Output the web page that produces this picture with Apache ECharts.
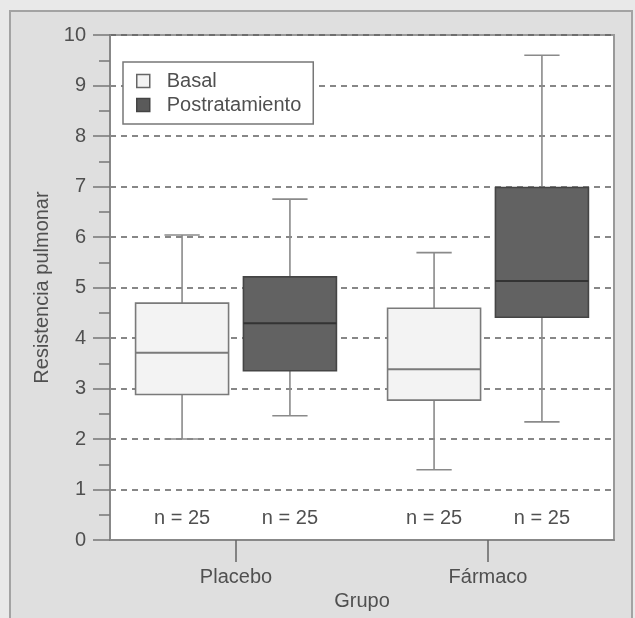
<!DOCTYPE html>
<html>
<head>
<meta charset="utf-8">
<script src="https://cdn.jsdelivr.net/npm/echarts@6/dist/echarts.min.js"></script>
<style>
html,body{margin:0;padding:0;background:#e9e9e9;}
#chart{width:635px;height:618px;}
</style>
</head>
<body>
<div id="chart"></div>
<script>
// ---- data ----
const categories = ['Placebo', 'Fármaco'];
const seriesNames = ['Basal', 'Postratamiento'];
// [min, Q1, median, Q3, max]
const basalValues = [
  [2.0, 2.88, 3.71, 4.69, 6.04],
  [1.39, 2.77, 3.38, 4.59, 5.69]
];
const postValues = [
  [2.46, 3.35, 4.29, 5.21, 6.75],
  [2.34, 4.41, 5.13, 6.98, 9.6]
];
const basalN = ['n = 25', 'n = 25'];
const postN = ['n = 25', 'n = 25'];
const yTicks = [0, 1, 2, 3, 4, 5, 6, 7, 8, 9, 10];

const FONT = 'Liberation Sans, Arial, sans-serif';
const TXT = '#505050';

function toData(vals, labels) {
  return vals.map((v, i) => [i, v[0], v[1], v[2], v[3], v[4], labels[i]]);
}

function makeRender(offsetFrac, st) {
  return function (params, api) {
    const cat = api.value(0);
    const band = api.size([1, 0])[0];
    const cx = api.coord([cat, 0])[0] + offsetFrac * band;
    const y = k => api.coord([cat, api.value(k)])[1];
    const yMin = y(1), yQ1 = y(2), yMed = y(3), yQ3 = y(4), yMax = y(5);
    const bw = band * 0.369, cw = band * 0.14;
    const wStyle = { stroke: '#8a8a8a', lineWidth: 1.6 };
    const yText = api.coord([cat, 0.42])[1];
    return {
      type: 'group',
      children: [
        { type: 'line', shape: { x1: cx, y1: yQ3, x2: cx, y2: yMax }, style: wStyle },
        { type: 'line', shape: { x1: cx, y1: yQ1, x2: cx, y2: yMin }, style: wStyle },
        { type: 'line', shape: { x1: cx - cw / 2, y1: yMax, x2: cx + cw / 2, y2: yMax }, style: wStyle },
        { type: 'line', shape: { x1: cx - cw / 2, y1: yMin, x2: cx + cw / 2, y2: yMin }, style: wStyle },
        { type: 'rect', shape: { x: cx - bw / 2, y: yQ3, width: bw, height: yQ1 - yQ3 },
          style: { fill: st.fill, stroke: st.stroke, lineWidth: 1.6 } },
        { type: 'line', shape: { x1: cx - bw / 2, y1: yMed, x2: cx + bw / 2, y2: yMed },
          style: { stroke: st.median, lineWidth: 2 } },
        { type: 'text', x: cx, y: yText,
          style: { text: api.value(6), fill: TXT, font: '20px ' + FONT, align: 'center', verticalAlign: 'middle' } }
      ]
    };
  };
}

const basalStyle = { fill: '#f3f3f3', stroke: '#7a7a7a', median: '#7a7a7a' };
const postStyle = { fill: '#626262', stroke: '#454545', median: '#333333' };

const chart = echarts.init(document.getElementById('chart'));
chart.setOption({
  backgroundColor: '#e9e9e9',
  animation: false,
  graphic: [
    { type: 'rect', z: -100, shape: { x: 10, y: 11, width: 622, height: 620 },
      style: { fill: '#dfdfdf', stroke: '#a3a3a3', lineWidth: 2 } }
  ],
  grid: {
    left: 110, right: 21, top: 35, bottom: 78,
    show: true, backgroundColor: '#ffffff', borderColor: '#999', borderWidth: 2
  },
  legend: {
    orient: 'vertical', left: 123, top: 62,
    backgroundColor: '#fff', borderColor: '#777', borderWidth: 1.5, borderRadius: 0,
    padding: [9, 12, 9, 13], itemGap: 4, itemWidth: 13, itemHeight: 13,
    textStyle: { fontSize: 20, color: TXT, fontFamily: FONT, padding: [0, 0, 0, 12] },
    data: [
      { name: seriesNames[0], icon: 'rect', itemStyle: { color: '#f3f3f3', borderColor: '#666', borderWidth: 1.5 } },
      { name: seriesNames[1], icon: 'rect', itemStyle: { color: '#5a5a5a', borderColor: '#444', borderWidth: 1.5 } }
    ]
  },
  xAxis: {
    type: 'category', data: categories,
    name: 'Grupo', nameLocation: 'middle', nameGap: 50,
    nameTextStyle: { fontSize: 20, color: TXT, fontFamily: FONT },
    axisLine: { show: true, lineStyle: { color: '#888', width: 2 } },
    axisTick: { show: true, alignWithLabel: true, interval: 0, length: 22, lineStyle: { color: '#666', width: 1.5 } },
    axisLabel: { fontSize: 20, color: TXT, fontFamily: FONT, margin: 27 },
    splitLine: { show: false }
  },
  yAxis: {
    type: 'value', min: 0, max: 10, interval: 1,
    name: 'Resistencia pulmonar', nameLocation: 'middle', nameGap: 57, nameRotate: 90,
    nameTextStyle: { fontSize: 20, color: TXT, fontFamily: FONT },
    axisLine: { show: true, lineStyle: { color: '#888', width: 2 } },
    axisTick: { show: true, length: 17, lineStyle: { color: '#777', width: 1.5 } },
    minorTick: { show: true, splitNumber: 2, length: 11, lineStyle: { color: '#777', width: 1.5 } },
    axisLabel: { fontSize: 20, color: TXT, fontFamily: FONT, margin: 24,
      formatter: v => yTicks.includes(v) ? String(v) : '' },
    splitLine: { show: true, lineStyle: { color: '#606060', width: 1.5, type: [6, 5] } }
  },
  series: [
    { name: seriesNames[0], type: 'custom', renderItem: makeRender(-0.214, basalStyle),
      encode: { x: 0, y: [1, 2, 3, 4, 5] }, itemStyle: { color: '#f3f3f3' },
      data: toData(basalValues, basalN) },
    { name: seriesNames[1], type: 'custom', renderItem: makeRender(0.214, postStyle),
      encode: { x: 0, y: [1, 2, 3, 4, 5] }, itemStyle: { color: '#5a5a5a' },
      data: toData(postValues, postN) }
  ]
});
</script>
</body>
</html>
